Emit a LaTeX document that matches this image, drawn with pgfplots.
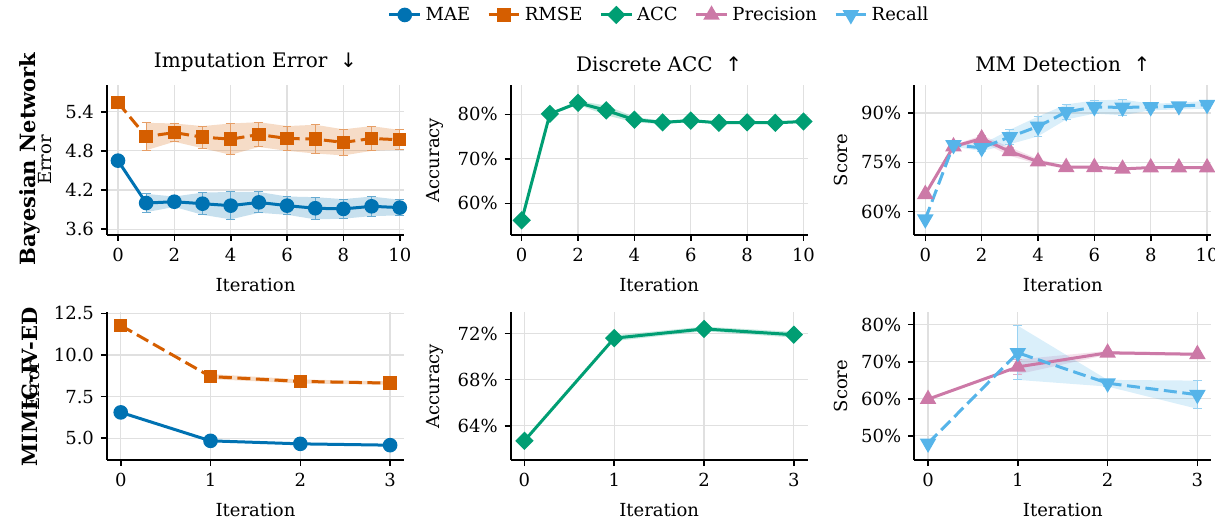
\documentclass[border=0pt]{standalone}
\usepackage{fontspec}
\setmainfont{DejaVu Serif}
\newfontfamily\arrowfont{DejaVu Sans}
\usepackage{pgfplots}
\usepackage{pgfplotstable}
\pgfplotsset{compat=1.18}

\definecolor{cmae}{HTML}{0072B2}
\definecolor{crmse}{HTML}{D55E00}
\definecolor{cacc}{HTML}{009E73}
\definecolor{cprec}{HTML}{CC79A7}
\definecolor{crec}{HTML}{56B4E9}

% Bayesian Network, 0..10 iterations (mean, std)
\pgfplotstableread{
x mae  maee rmse rmsee
0 4.65 0    5.54 0
1 4.00 0.14 5.02 0.21
2 4.02 0.08 5.08 0.14
3 3.99 0.17 5.01 0.17
4 3.96 0.21 4.98 0.24
5 4.01 0.16 5.05 0.19
6 3.96 0.14 4.99 0.19
7 3.92 0.17 4.98 0.22
8 3.91 0.15 4.93 0.20
9 3.95 0.15 4.99 0.19
10 3.93 0.12 4.97 0.15
}\bnerr
\pgfplotstableread{
x acc  acce
0 56.2 0
1 80.1 0.3
2 82.6 0.4
3 80.9 1.1
4 78.8 0.6
5 78.2 0.4
6 78.6 0.3
7 78.1 0.3
8 78.2 0.3
9 78.1 0.3
10 78.4 0.3
}\bnacc
\pgfplotstableread{
x prec prece rec  rece
0 65.3 0     57.7 0
1 79.8 0.4   80.3 0.5
2 82.2 1.0   79.4 1.0
3 78.3 1.3   82.7 2.2
4 75.2 0.8   85.9 3.0
5 73.5 0.4   90.3 2.3
6 73.5 0.4   91.8 2.0
7 73.0 0.3   91.7 2.4
8 73.4 0.3   91.8 1.0
9 73.4 0.3   92.1 1.0
10 73.4 0.3  92.5 1.2
}\bnmm
% MIMIC-IV-ED, 0..3 iterations
\pgfplotstableread{
x mae  maee rmse  rmsee
0 6.55 0    11.77 0
1 4.84 0.05 8.70  0.15
2 4.66 0.04 8.41  0.12
3 4.58 0.03 8.31  0.10
}\mmerr
\pgfplotstableread{
x acc  acce
0 62.7 0
1 71.6 0.25
2 72.4 0.2
3 71.9 0.25
}\mmacc
\pgfplotstableread{
x prec prece rec  rece
0 59.9 0     48.0 0
1 68.6 2.0   72.4 7.3
2 72.4 0.5   64.2 0.9
3 72.0 0.4   61.1 3.8
}\mmmm

\pgfplotsset{
  panel/.style={
    scale only axis, width=148.5pt,
    axis lines=left, axis line style={-, line width=0.9pt},
    tick align=outside, major tick length=3pt,
    tick style={line width=0.8pt, black},
    grid=major, grid style={black!12, line width=0.6pt},
    tick label style={font=\fontsize{9}{10}\selectfont},
    label style={font=\fontsize{9}{10}\selectfont},
    xlabel style={yshift=-1.5pt},
    title style={font=\fontsize{10}{12}\selectfont, yshift=-3pt},
    xlabel={Iteration},
    /pgf/number format/assume math mode=true,
  },
  toprow/.style={panel, height=75pt, xmin=-0.39, xmax=10.15, xtick={0,2,...,10}},
  botrow/.style={panel, height=74pt, xmin=-0.153, xmax=3.155, xtick={0,1,2,3}},
  pct/.style={yticklabel={\pgfmathprintnumber{\tick}\%}},
  errs/.style={error bars/y dir=both, error bars/y explicit,
    error bars/error bar style={line width=0.5pt, #1!60, solid},
    error bars/error mark options={rotate=90, mark size=2.2pt, line width=0.5pt, #1!60, solid}},
  band/.style={fill=#1, fill opacity=0.22, draw=none, forget plot},
  smae/.style={cmae, line width=1.5pt, mark=*, mark size=2.9pt},
  srmse/.style={crmse, line width=1.5pt, dash pattern=on 6.5pt off 2.8pt, mark=square*, mark size=2.6pt, mark options={solid}},
  sacc/.style={cacc, line width=1.5pt, mark=square*, mark size=2.5pt, mark options={rotate=45}},
  sprec/.style={cprec, line width=1.5pt, mark=triangle*, mark size=3.3pt},
  srec/.style={crec, line width=1.5pt, dash pattern=on 6.5pt off 2.8pt, mark=triangle*, mark size=3.3pt, mark options={solid, rotate=180}},
  legend image code/.code={\draw[mark repeat=2, mark phase=2] plot coordinates {(0cm,0cm) (0.27cm,0cm) (0.54cm,0cm)};},
}

\begin{document}
\begin{tikzpicture}
\path[use as bounding box] (0,0) rectangle (607.5pt,260pt);

% ---- top row: Bayesian Network
\begin{axis}[toprow, at={(53.5pt,217.5pt)}, anchor=north west,
  title={Imputation Error\ \ {\arrowfont ↓}}, ylabel={Error},
  ymin=3.51, ymax=5.81, ytick={3.6,4.2,4.8,5.4},
  yticklabel style={/pgf/number format/.cd, fixed, fixed zerofill, precision=1}]
% mean +- std bands (iterations 1..10)
\addplot[band=cmae] coordinates {(1,4.14)(2,4.10)(3,4.16)(4,4.17)(5,4.17)(6,4.10)(7,4.09)(8,4.06)(9,4.10)(10,4.05)
  (10,3.81)(9,3.80)(8,3.76)(7,3.75)(6,3.82)(5,3.85)(4,3.75)(3,3.82)(2,3.94)(1,3.86)};
\addplot[band=crmse] coordinates {(1,5.23)(2,5.22)(3,5.18)(4,5.22)(5,5.24)(6,5.18)(7,5.20)(8,5.13)(9,5.18)(10,5.12)
  (10,4.82)(9,4.80)(8,4.73)(7,4.76)(6,4.80)(5,4.86)(4,4.74)(3,4.84)(2,4.94)(1,4.81)};
\addplot[smae, errs=cmae] table[x=x, y=mae, y error=maee] {\bnerr};
\addplot[srmse, errs=crmse] table[x=x, y=rmse, y error=rmsee] {\bnerr};
\end{axis}

\begin{axis}[toprow, pct, at={(255.35pt,217.5pt)}, anchor=north west,
  title={Discrete ACC\ \ {\arrowfont ↑}}, ylabel={Accuracy},
  ymin=52.9, ymax=86.6, ytick={60,70,80},
  legend style={at={(0.503,1.467)}, anchor=center, draw=none, fill=none,
    legend columns=5, font=\fontsize{9}{10}\selectfont,
    /tikz/every even column/.append style={column sep=6.5pt}},
  legend cell align=left]
\addlegendimage{smae}\addlegendentry{MAE}
\addlegendimage{srmse}\addlegendentry{RMSE}
\addlegendimage{sacc}\addlegendentry{ACC}
\addlegendimage{sprec}\addlegendentry{Precision}
\addlegendimage{srec}\addlegendentry{Recall}
\addplot[band=cacc] coordinates {(1,80.4)(2,83.0)(3,82.0)(4,79.4)(5,78.6)(6,78.9)(7,78.4)(8,78.5)(9,78.4)(10,78.7)
  (10,78.1)(9,77.8)(8,77.9)(7,77.8)(6,78.3)(5,77.8)(4,78.2)(3,79.8)(2,82.2)(1,79.8)};
\addplot[sacc, errs=cacc, forget plot] table[x=x, y=acc, y error=acce] {\bnacc};
\end{axis}

\begin{axis}[toprow, pct, at={(457.15pt,217.5pt)}, anchor=north west,
  title={MM Detection\ \ {\arrowfont ↑}}, ylabel={Score},
  ymin=52.9, ymax=98.5, ytick={60,75,90}]
\addplot[band=cprec] coordinates {(1,80.2)(2,83.2)(3,79.6)(4,76.0)(5,73.9)(6,73.9)(7,73.3)(8,73.7)(9,73.7)(10,73.7)
  (10,73.1)(9,73.1)(8,73.1)(7,72.7)(6,73.1)(5,73.1)(4,74.4)(3,77.0)(2,81.2)(1,79.4)};
\addplot[band=crec] coordinates {(1,80.8)(2,80.4)(3,84.9)(4,88.9)(5,92.6)(6,93.8)(7,94.1)(8,92.8)(9,93.1)(10,93.7)
  (10,91.3)(9,91.1)(8,90.8)(7,89.3)(6,89.8)(5,88.0)(4,82.9)(3,80.5)(2,78.4)(1,79.8)};
\addplot[sprec, errs=cprec] table[x=x, y=prec, y error=prece] {\bnmm};
\addplot[srec, errs=crec] table[x=x, y=rec, y error=rece] {\bnmm};
\end{axis}

% ---- bottom row: MIMIC-IV-ED
\begin{axis}[botrow, at={(53.5pt,104pt)}, anchor=north west,
  ylabel={Error}, ymin=3.69, ymax=12.58, ytick={5,7.5,10,12.5},
  yticklabel style={/pgf/number format/.cd, fixed, fixed zerofill, precision=1}]
\addplot[band=cmae] coordinates {(1,4.89)(2,4.70)(3,4.61)(3,4.55)(2,4.62)(1,4.79)};
\addplot[band=crmse] coordinates {(1,8.85)(2,8.53)(3,8.41)(3,8.21)(2,8.29)(1,8.55)};
\addplot[smae, errs=cmae] table[x=x, y=mae, y error=maee] {\mmerr};
\addplot[srmse, errs=crmse] table[x=x, y=rmse, y error=rmsee] {\mmerr};
\end{axis}

\begin{axis}[botrow, pct, at={(255.35pt,104pt)}, anchor=north west,
  ylabel={Accuracy}, ymin=61.03, ymax=73.87, ytick={64,68,72}]
\addplot[band=cacc] coordinates {(1,71.85)(2,72.6)(3,72.15)(3,71.65)(2,72.2)(1,71.35)};
\addplot[sacc, errs=cacc] table[x=x, y=acc, y error=acce] {\mmacc};
\end{axis}

\begin{axis}[botrow, pct, at={(457.15pt,104pt)}, anchor=north west,
  ylabel={Score}, ymin=43.5, ymax=83.4, ytick={50,60,70,80}]
\addplot[band=cprec] coordinates {(1,70.6)(2,72.9)(3,72.4)(3,71.6)(2,71.9)(1,66.6)};
\addplot[band=crec] coordinates {(1,79.7)(2,65.1)(3,64.9)(3,57.3)(2,63.3)(1,65.1)};
\addplot[sprec, errs=cprec] table[x=x, y=prec, y error=prece] {\mmmm};
\addplot[srec, errs=crec] table[x=x, y=rec, y error=rece] {\mmmm};
\end{axis}

\node[rotate=90, font=\bfseries\fontsize{10.5}{12}\selectfont] at (15pt,180.5pt) {Bayesian Network};
\node[rotate=90, font=\bfseries\fontsize{10.5}{12}\selectfont] at (15pt,66.5pt) {MIMIC-IV-ED};
\end{tikzpicture}
\end{document}
